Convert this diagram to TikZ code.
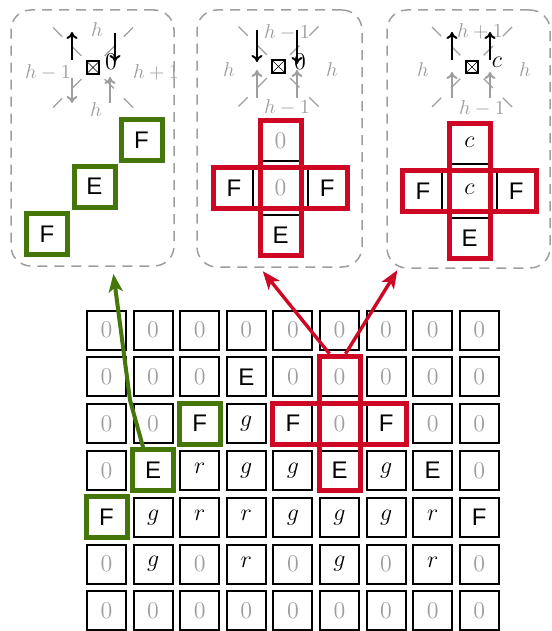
\documentclass[tikz,border=0pt]{standalone}
\usepackage{amsmath,amssymb}
\usepackage{fontspec}
\setsansfont{Liberation Sans}
\usepackage{xcolor}
\usepackage{tikz}
\usetikzlibrary{calc,fit,arrows.meta}

\definecolor{figgreen}{RGB}{68,118,10}
\definecolor{figred}{RGB}{206,8,36}
\definecolor{figgray}{RGB}{158,158,158}

% cell contents
\newcommand{\celz}{\textcolor{figgray}{$0$}}
\newcommand{\celE}{\textsf{E}}
\newcommand{\celF}{\textsf{F}}
\newcommand{\celg}{\raisebox{2pt}{$g$}}
\newcommand{\celr}{\raisebox{2pt}{$r$}}
\newcommand{\celc}{\raisebox{2pt}{$c$}}

\begin{document}
\begin{tikzpicture}[x=0.5pt, y=-0.5pt,
  cell/.style={draw, line width=1pt, minimum size=19.5pt, inner sep=0pt, font=\large},
  greenbox/.style={draw=figgreen, line width=2.5pt, inner sep=0pt},
  redbox/.style={draw=figred, line width=2.5pt, inner sep=0pt},
  panel/.style={draw=figgray, line width=0.75pt, dash pattern=on 5pt off 3.5pt, rounded corners=10pt},
  diag/.style={figgray, line width=0.7pt, dash pattern=on 6.5pt off 7pt},
  lbl/.style={text=figgray, inner sep=0pt},
  up/.style={line width=1pt, -{To[length=3.5pt,width=5.5pt]}},
  dim/.style={figgray, line width=1pt, -{To[length=3.5pt,width=5.5pt]}},
  site/.style={draw, fill=white, line width=1pt, minimum size=6.2pt, inner sep=0pt,
    path picture={\draw[line width=0.3pt] (path picture bounding box.south west) -- (path picture bounding box.north east)
      (path picture bounding box.north west) -- (path picture bounding box.south east);}},
  greenflow/.style={figgreen, line width=2pt, -{Stealth[length=9pt,width=7pt,inset=2.2pt]}},
  redflow/.style={figred, line width=1.7pt, -{Stealth[length=9pt,width=7pt,inset=2.2pt]}}
]
  \useasboundingbox (0,0) rectangle (551,631);

  % Dashed panels
  \node[panel, minimum width=81.5pt, minimum height=128pt] (left_panel) at (92.5,138) {};
  \node[panel, minimum width=82.5pt, minimum height=128.5pt] (mid_panel) at (279.5,138.5) {};
  \node[panel, minimum width=81.5pt, minimum height=129pt] (right_panel) at (468.5,139) {};

  % Left legend: h-1 | h+1
  \coordinate (ctr_l) at (93,67.5);
  \foreach \dx/\dy in {-40/-40, 40/-40, -40/40, 40/40}
    \draw[diag] ($(ctr_l)+(\dx,\dy)$) -- (ctr_l);
  \node[site] (site_l) at (ctr_l) {};
  \node[font=\large] (val_l) at (111,62) {$0$};
  \draw[up] (72,60) -- (72,32);
  \draw[up] (115,33) -- (115,62);
  \draw[dim] (72,78) -- (72,103);
  \draw[dim] (110,103) -- (110,77);
  \node[lbl] (top_l) at (97,30) {$h$};
  \node[lbl] (bot_l) at (96,110) {$h$};
  \node[lbl] (west_l) at (48,72) {$h-1$};
  \node[lbl] (east_l) at (156,72) {$h+1$};

  % Middle legend
  \coordinate (ctr_m) at (278.5,66.5);
  \foreach \dx/\dy in {-40/-40, 40/-40, -40/40, 40/40}
    \draw[diag] ($(ctr_m)+(\dx,\dy)$) -- (ctr_m);
  \node[site] (site_m) at (ctr_m) {};
  \node[font=\large] (val_m) at (300,62) {$0$};
  \draw[up] (257,30) -- (257,62);
  \draw[up] (297,30) -- (297,64);
  \draw[dim] (257,98) -- (257,70);
  \draw[dim] (297,98) -- (297,70);
  \node[lbl] (top_m) at (287,32) {$h-1$};
  \node[lbl] (bot_m) at (287,107) {$h-1$};
  \node[lbl] (west_m) at (229,70) {$h$};
  \node[lbl] (east_m) at (332,70) {$h$};

  % Right legend
  \coordinate (ctr_r) at (472,67);
  \foreach \dx/\dy in {-40/-40, 40/-40, -40/40, 40/40}
    \draw[diag] ($(ctr_r)+(\dx,\dy)$) -- (ctr_r);
  \node[site] (site_r) at (ctr_r) {};
  \node[font=\large] (val_r) at (497,62) {$c$};
  \draw[up] (452,60) -- (452,32);
  \draw[up] (490,60) -- (490,32);
  \draw[dim] (452,98) -- (452,72);
  \draw[dim] (490,98) -- (490,72);
  \node[lbl] (top_r) at (480,31) {$h+1$};
  \node[lbl] (bot_r) at (482,108) {$h-1$};
  \node[lbl] (west_r) at (423,70) {$h$};
  \node[lbl] (east_r) at (525,70) {$h$};

  % Left panel: staircase
  \node[cell] (l_a) at (141.5,140) {\celF};
  \node[cell] (l_b) at (94.5,186.5) {\celE};
  \node[cell] (l_c) at (47,234) {\celF};
  \node[greenbox, fit=(l_a)] (l_abox) {};
  \node[greenbox, fit=(l_b)] (l_bbox) {};
  \node[greenbox, fit=(l_c)] (l_cbox) {};

  % Middle panel: cross
  \node[cell] (m_top) at (280.5,141.2) {\celz};
  \node[cell] (m_left) at (233.9,188) {\celF};
  \node[cell] (m_mid) at (280.5,188) {\celz};
  \node[cell] (m_right) at (327.1,188) {\celF};
  \node[cell] (m_bot) at (280.5,234.8) {\celE};
  \node[redbox, fit=(m_top)(m_bot)] (m_vbox) {};
  \node[redbox, fit=(m_left)(m_right)] (m_hbox) {};

  % Right panel: cross
  \node[cell] (r_top) at (469.5,144.2) {\celc};
  \node[cell] (r_left) at (422.9,191) {\celF};
  \node[cell] (r_mid) at (469.5,191) {\celc};
  \node[cell] (r_right) at (516.1,191) {\celF};
  \node[cell] (r_bot) at (469.5,237.8) {\celE};
  \node[redbox, fit=(r_top)(r_bot)] (r_vbox) {};
  \node[redbox, fit=(r_left)(r_right)] (r_hbox) {};

  % Lattice
  \foreach \row [count=\j] in {
    {\celz,\celz,\celz,\celz,\celz,\celz,\celz,\celz,\celz},
    {\celz,\celz,\celz,\celE,\celz,\celz,\celz,\celz,\celz},
    {\celz,\celz,\celF,\celg,\celF,\celz,\celF,\celz,\celz},
    {\celz,\celE,\celr,\celg,\celg,\celE,\celg,\celE,\celz},
    {\celF,\celg,\celr,\celr,\celg,\celg,\celg,\celr,\celF},
    {\celz,\celg,\celz,\celr,\celz,\celg,\celz,\celr,\celz},
    {\celz,\celz,\celz,\celz,\celz,\celz,\celz,\celz,\celz}}
  {
    \foreach \s [count=\i] in \row
      \node[cell] (c\i-\j) at ({106.5+46.6*(\i-1)},{330+46.8*(\j-1)}) {\s};
  }

  % Highlights in the lattice
  \node[greenbox, fit=(c1-5)] (g_one) {};
  \node[greenbox, fit=(c2-4)] (g_two) {};
  \node[greenbox, fit=(c3-3)] (g_three) {};
  \node[redbox, fit=(c6-2)(c6-4)] (cross_v) {};
  \node[redbox, fit=(c5-3)(c7-3)] (cross_h) {};

  % Connectors to the panels
  \coordinate (g_bend) at (130,400);
  \draw[greenflow, shorten >=3.6pt] ($(g_two.north)+(-10,0)$) -- (g_bend) -- ($(left_panel.south)+(20,0)$);
  \draw[redflow, shorten >=2.2pt] ($(cross_v.north)+(-10,0)$) -- ($(mid_panel.south)+(-19.5,0)$);
  \draw[redflow, shorten >=0.8pt] ($(cross_v.north)+(6,0)$) -- ($(right_panel.south west)+(12,0)$);
\end{tikzpicture}
\end{document}
